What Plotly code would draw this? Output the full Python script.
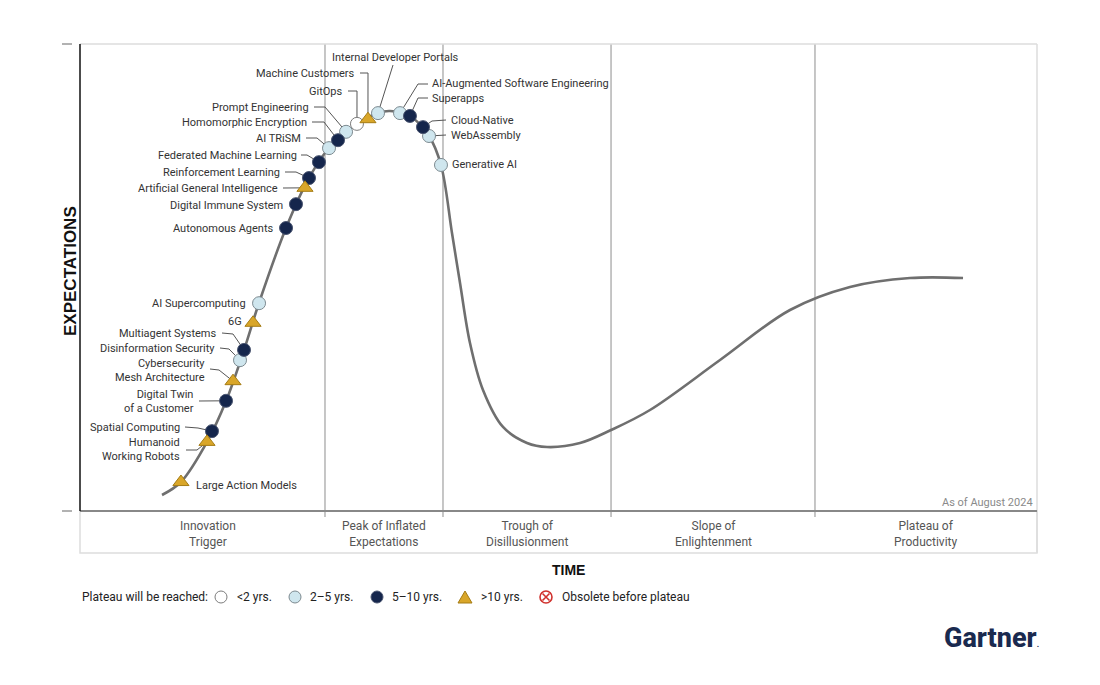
import plotly.graph_objects as go

# ---------------- data ----------------
tech_names = [
    "Large Action Models", "Humanoid<br>Working Robots", "Spatial Computing",
    "Digital Twin<br>of a Customer", "Cybersecurity<br>Mesh Architecture",
    "Disinformation Security", "Multiagent Systems", "6G", "AI Supercomputing",
    "Autonomous Agents", "Digital Immune System", "Artificial General Intelligence",
    "Reinforcement Learning", "Federated Machine Learning", "AI TRiSM",
    "Homomorphic Encryption", "Prompt Engineering", "GitOps", "Machine Customers",
    "Internal Developer Portals", "AI-Augmented Software Engineering", "Superapps",
    "Cloud-Native", "WebAssembly", "Generative AI",
]
tech_time = [10.55, 13.27, 13.79, 15.26, 15.99, 16.72, 17.14, 18.08, 18.71,
             21.53, 22.57, 23.51, 23.93, 24.97, 26.02, 26.96, 27.80, 28.94,
             30.09, 31.14, 33.44, 34.48, 35.84, 36.47, 37.72]
tech_expect = [6.2, 14.8, 17.1, 23.6, 27.8, 32.3, 34.5, 40.3, 44.5,
               60.6, 65.7, 69.2, 71.3, 74.7, 77.7, 79.4, 81.2, 82.9,
               83.9, 85.2, 85.2, 84.6, 82.2, 80.3, 74.1]
tech_plateau = [">10", ">10", "5-10", "5-10", ">10", "2-5", "5-10", ">10", "2-5",
                "5-10", "5-10", ">10", "5-10", "5-10", "2-5", "5-10", "2-5", "<2",
                ">10", "2-5", "2-5", "5-10", "5-10", "2-5", "2-5"]

curve_time = [8.57, 10.55, 13.27, 15.26, 17.14, 18.70, 21.53, 23.93, 26.02, 28.94,
              31.14, 32.39, 34.48, 36.47, 37.72, 38.87, 39.71, 40.75, 42.11, 44.20,
              46.71, 48.80, 52.25, 55.49, 59.56, 66.88, 74.19, 80.46, 86.73, 92.27]
curve_expect = [3.43, 6.21, 14.78, 23.55, 34.48, 44.54, 60.60, 71.31, 77.73, 82.87,
                85.22, 85.65, 84.58, 80.30, 74.09, 59.53, 48.82, 35.97, 25.91, 17.99,
                14.56, 13.70, 14.56, 17.34, 21.63, 32.33, 43.04, 47.97, 49.89, 49.89]

phase_names = ["Innovation<br>Trigger", "Peak of Inflated<br>Expectations",
               "Trough of<br>Disillusionment", "Slope of<br>Enlightenment",
               "Plateau of<br>Productivity"]
phase_bounds = [0, 25.6, 37.93, 55.49, 76.8, 100]

legend_keys = ["<2", "2-5", "5-10", ">10", "obsolete"]
legend_labels = ["<2 yrs.", "2\u20135 yrs.", "5\u201310 yrs.", ">10 yrs.", "Obsolete before plateau"]

# ---------------- layout helpers (pixel placement) ----------------
W, H = 1100, 685
PX0, PX1, PY0, PY1 = 80, 1037, 44, 511


def dx(px):
    return (px - PX0) / (PX1 - PX0) * 100


def dy(py):
    return (PY1 - py) / (PY1 - PY0) * 100


def ppx(px):
    return (px - PX0) / (PX1 - PX0)


def ppy(py):
    return (PY1 - py) / (PY1 - PY0)


# label placement: text anchor (px), side, leader elbow points (px)
label_layout = {
    "Large Action Models": (194, 485, "left", []),
    "Humanoid<br>Working Robots": (182, 449, "right", [(186, 450), (197, 450)]),
    "Spatial Computing": (182, 427, "right", [(185, 427), (198, 428)]),
    "Digital Twin<br>of a Customer": (196, 401, "right", [(199, 401)]),
    "Cybersecurity<br>Mesh Architecture": (207, 370, "right", [(210, 369), (219, 370)]),
    "Disinformation Security": (217, 348, "right", [(220, 348), (229, 349)]),
    "Multiagent Systems": (219, 333, "right", [(222, 333), (233, 334)]),
    "6G": (244, 321, "right", []),
    "AI Supercomputing": (248, 303, "right", []),
    "Autonomous Agents": (276, 228, "right", []),
    "Digital Immune System": (285, 205, "right", []),
    "Artificial General Intelligence": (280, 188, "right", [(283, 188)]),
    "Reinforcement Learning": (282, 172, "right", [(285, 172), (296, 172)]),
    "Federated Machine Learning": (299, 155, "right", [(301, 155), (307, 155)]),
    "AI TRiSM": (303, 138, "right", [(306, 138), (317, 138)]),
    "Homomorphic Encryption": (309, 122, "right", [(312, 122), (324, 122)]),
    "Prompt Engineering": (311, 107, "right", [(314, 107), (325, 107)]),
    "GitOps": (345, 91, "right", [(348, 91), (357, 91)]),
    "Machine Customers": (357, 73, "right", [(360, 73), (368, 73)]),
    "Internal Developer Portals": (330, 57, "left", [(393, 65)]),
    "AI-Augmented Software Engineering": (430, 83, "left", [(428, 84), (418, 84)]),
    "Superapps": (430, 98, "left", [(428, 98), (418, 98)]),
    "Cloud-Native": (449, 120, "left", [(446, 120), (432, 121)]),
    "WebAssembly": (449, 135, "left", [(446, 135)]),
    "Generative AI": (450, 164, "left", []),
}

styles = {
    "<2": dict(symbol="circle", color="#ffffff", line=dict(color="#7d7d7d", width=1), size=13),
    "2-5": dict(symbol="circle", color="#cfe6ee", line=dict(color="#7d8a90", width=1), size=13),
    "5-10": dict(symbol="circle", color="#15264c", line=dict(color="#4a5570", width=1), size=13),
    ">10": dict(symbol="triangle-up", color="#d9a629", line=dict(color="#a57c14", width=1), size=14),
}

FONT = "Roboto"

fig = go.Figure()

# leader lines
lx, ly = [], []
for name, t, e in zip(tech_names, tech_time, tech_expect):
    _, _, _, pts = label_layout[name]
    if not pts:
        continue
    for (px, py) in pts:
        lx.append(dx(px))
        ly.append(dy(py))
    lx.append(t)
    ly.append(e)
    lx.append(None)
    ly.append(None)
fig.add_trace(go.Scatter(x=lx, y=ly, mode="lines", line=dict(color="#555555", width=1),
                         hoverinfo="skip", showlegend=False))

# hype curve
fig.add_trace(go.Scatter(x=curve_time, y=curve_expect, mode="lines",
                         line=dict(color="#6f6f6f", width=2.6, shape="spline", smoothing=1.0),
                         hoverinfo="skip", showlegend=False))

# markers by category
for key in ["<2", "2-5", "5-10", ">10"]:
    xs = [t for t, p in zip(tech_time, tech_plateau) if p == key]
    ys = [e for e, p in zip(tech_expect, tech_plateau) if p == key]
    ns = [n for n, p in zip(tech_names, tech_plateau) if p == key]
    fig.add_trace(go.Scatter(x=xs, y=ys, mode="markers", marker=styles[key], text=ns,
                             hoverinfo="text", showlegend=False))

annotations = []
for name in tech_names:
    px, py, side, _ = label_layout[name]
    annotations.append(dict(
        x=dx(px), y=dy(py), xref="x", yref="y", text=name, showarrow=False,
        xanchor="right" if side == "right" else "left", yanchor="middle",
        align="right" if side == "right" else "left",
        font=dict(family=FONT, size=11, color="#333333")))

# phase labels
for i, pname in enumerate(phase_names):
    cx = (phase_bounds[i] + phase_bounds[i + 1]) / 2
    if i == 0:
        cx += 0.6
    annotations.append(dict(
        x=cx, y=ppy(533.5), xref="x", yref="paper",
        text=pname, showarrow=False, xanchor="center", yanchor="middle",
        font=dict(family=FONT, size=12, color="#555555")))

# axis titles
annotations.append(dict(x=ppx(70), y=ppy(271), xref="paper", yref="paper", text="<b>EXPECTATIONS</b>",
                        textangle=-90, showarrow=False, xanchor="center", yanchor="middle",
                        font=dict(family="Liberation Sans", size=17, color="#111111")))
annotations.append(dict(x=ppx(568), y=ppy(570), xref="paper", yref="paper", text="<b>TIME</b>",
                        showarrow=False, xanchor="center", yanchor="middle",
                        font=dict(family="Liberation Sans", size=14, color="#111111")))
annotations.append(dict(x=ppx(1035), y=ppy(502), xref="paper", yref="paper", text="As of August 2024",
                        showarrow=False, xanchor="right", yanchor="middle",
                        font=dict(family=FONT, size=11, color="#8a8a8a")))

# legend row
annotations.append(dict(x=ppx(80), y=ppy(597), xref="paper", yref="paper", text="Plateau will be reached:",
                        showarrow=False, xanchor="left", yanchor="middle",
                        font=dict(family=FONT, size=12, color="#222222")))
legend_sym_x = [221, 295, 377, 465, 546]
legend_txt_x = [235, 308, 390, 479, 560]
for lab, tx in zip(legend_labels, legend_txt_x):
    annotations.append(dict(x=ppx(tx), y=ppy(597), xref="paper", yref="paper", text=lab,
                            showarrow=False, xanchor="left", yanchor="middle",
                            font=dict(family=FONT, size=12, color="#222222")))

# Gartner logo text
annotations.append(dict(x=ppx(1041), y=ppy(638), xref="paper", yref="paper",
                        text="Gartner<span style='font-size:8px'>.</span>",
                        showarrow=False, xanchor="right", yanchor="middle",
                        font=dict(family="Roboto", size=27, color="#1a2a4f", weight=800)))

shapes = []
# frame
shapes.append(dict(type="line", xref="paper", yref="paper", x0=0, x1=1, y0=1, y1=1,
                   line=dict(color="#dddddd", width=1.5)))
shapes.append(dict(type="line", xref="paper", yref="paper", x0=1, x1=1, y0=ppy(553), y1=1,
                   line=dict(color="#dddddd", width=1.5)))
shapes.append(dict(type="rect", xref="paper", yref="paper", x0=0, x1=1, y0=ppy(553), y1=0,
                   line=dict(color="#dddddd", width=1.5)))
# phase dividers
for b in phase_bounds[1:-1]:
    shapes.append(dict(type="line", xref="x", yref="paper", x0=b, x1=b, y0=ppy(517), y1=1,
                       line=dict(color="#b3b3b3", width=1.5), layer="below"))
# axes
shapes.append(dict(type="line", xref="paper", yref="paper", x0=0, x1=1, y0=0, y1=0,
                   line=dict(color="#888888", width=2)))
shapes.append(dict(type="line", xref="paper", yref="paper", x0=0, x1=0, y0=0, y1=1,
                   line=dict(color="#111111", width=1.5)))
for yy in (0, 1):
    shapes.append(dict(type="line", xref="paper", yref="paper", x0=ppx(62), x1=ppx(72), y0=yy, y1=yy,
                       line=dict(color="#999999", width=1.5)))

# legend symbols
for key, sx in zip(legend_keys, legend_sym_x):
    base = dict(xref="paper", yref="paper", xsizemode="pixel", ysizemode="pixel",
                xanchor=ppx(sx), yanchor=ppy(597))
    if key in ("<2", "2-5", "5-10"):
        st = styles[key]
        shapes.append(dict(type="circle", x0=-6, x1=6, y0=-6, y1=6, fillcolor=st["color"],
                           line=dict(color=st["line"]["color"], width=1), **base))
    elif key == ">10":
        st = styles[key]
        shapes.append(dict(type="path", path="M -7,-6 L 7,-6 L 0,6 Z", fillcolor=st["color"],
                           line=dict(color=st["line"]["color"], width=1), **base))
    else:
        shapes.append(dict(type="circle", x0=-6, x1=6, y0=-6, y1=6, fillcolor="white",
                           line=dict(color="#d0312d", width=1.6), **base))
        shapes.append(dict(type="path", path="M -3.5,-3.5 L 3.5,3.5 M -3.5,3.5 L 3.5,-3.5",
                           line=dict(color="#d0312d", width=1.6), **base))

fig.update_layout(
    width=W, height=H,
    margin=dict(l=PX0, r=W - PX1, t=PY0, b=H - PY1),
    paper_bgcolor="white", plot_bgcolor="white",
    xaxis=dict(range=[0, 100], visible=False, fixedrange=True),
    yaxis=dict(range=[0, 100], visible=False, fixedrange=True),
    annotations=annotations, shapes=shapes,
    showlegend=False,
)

fig.write_html("out.html")
